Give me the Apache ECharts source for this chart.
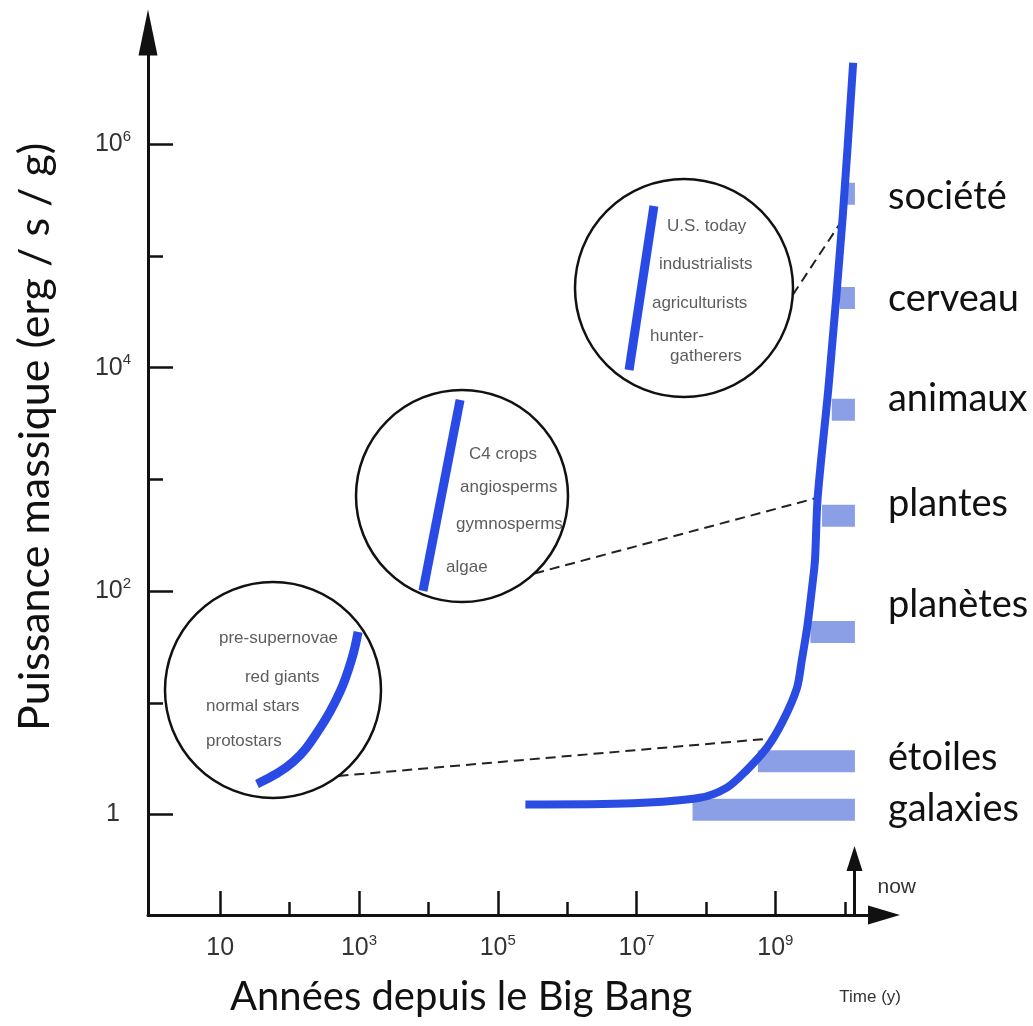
<!DOCTYPE html>
<html><head><meta charset="utf-8">
<script src="https://cdn.jsdelivr.net/npm/echarts@6/dist/echarts.min.js"></script>
<style>html,body{margin:0;padding:0;background:#fff}#c{width:1033px;height:1026px}</style>
</head><body><div id="c"></div>
<script>
// ---------------- data ----------------
// main curve: years since Big Bang vs specific power (erg/s/g)
const curveYears = [2.5e5, 8.9e6, 8.1e7, 2.0e8, 3.9e8, 7.6e8, 1.29e9, 2.04e9, 2.4e9, 2.88e9, 3.39e9, 3.72e9, 4.07e9, 5.89e9, 9.33e9, 1.32e10];
const curvePower = [1.23, 1.26, 1.41, 1.74, 2.51, 3.98, 6.92, 13.5, 24, 47.9, 110, 190, 692, 7244, 2.24e5, 5.37e6];
// eras (bars)
const eraNames = ['galaxies', 'étoiles', 'planètes', 'plantes', 'animaux', 'cerveau', 'société'];
const eraStartYears = [6.4e7, 5.6e8, 3.2e9, 4.7e9, 6.5e9, 8.5e9, 1.07e10];
const eraPower = [1.1, 3.0, 43, 472, 4200, 4.2e4, 3.6e5];
const eraEndYear = 1.4e10;
const nowYear = 1.38e10;
// axis ticks (exponents of 10)
const xMajorExp = [1, 3, 5, 7, 9];
const xMinorExp = [2, 4, 6, 8, 10];
const yMajorExp = [0, 2, 4, 6];
const yMinorExp = [1, 3, 5];
// insets (coordinates inside each inset, 0..1)
const starStages = ['pre-supernovae', 'red giants', 'normal stars', 'protostars'];
const starStageXY = [[0.25, 0.741], [0.370, 0.560], [0.190, 0.426], [0.190, 0.264]];
const starTrack = [[0.426, 0.065], [0.593, 0.167], [0.718, 0.324], [0.810, 0.491], [0.866, 0.648], [0.894, 0.769]];
const plantStages = ['C4 crops', 'angiosperms', 'gymnosperms', 'algae'];
const plantStageXY = [[0.533, 0.698], [0.491, 0.542], [0.472, 0.368], [0.425, 0.165]];
const plantTrack = [[0.316, 0.052], [0.491, 0.953]];
const humanStages = ['U.S. today', 'industrialists', 'agriculturists', 'hunter-', 'gatherers'];
const humanStageXY = [[0.422, 0.784], [0.385, 0.610], [0.353, 0.431], [0.344, 0.280], [0.436, 0.188]];
const humanTrack = [[0.248, 0.124], [0.362, 0.876]];
// leader targets on the main curve [years, power]
const leaderTargets = [[9.1e8, 4.8], [4.0e9, 684], [9.2e9, 2.1e5]];

// ---------------- helpers ----------------
const L = Math.log10;
const X_MIN = -0.04, X_MAX = 10.565, Y_MIN = -0.9, Y_MAX = 7.0;
const ARIAL = 'Liberation Sans, Arial, sans-serif';
const GILL = 'Lato, sans-serif';
const GRAY = '#333';
function expLabel(v) {
  const k = Math.round(v);
  if (k === 0) return '{b|1}';
  if (k === 1) return '{b|10}';
  return '{b|10}{s|' + k + '}';
}
const labelRich = {
  b: { fontFamily: ARIAL, fontSize: 25, color: GRAY, lineHeight: 30 },
  s: { fontFamily: ARIAL, fontSize: 15, color: GRAY, lineHeight: 4, verticalAlign: 'top' }
};
const axisColor = '#111';
const tickStyle = { color: axisColor, width: 2.5 };

const insetAxes = [1, 2, 3].map(g => ({ type: 'value', gridIndex: g, min: 0, max: 1, show: false }));

const eraLabelOffsets = [[0, -1], [0, -3], [0, -27], [0, -12], [0, -11], [0, 1], [0, 2.5]];

const eraSeries = eraNames.map((n, i) => ({
  type: 'line', name: n, xAxisIndex: 0, yAxisIndex: 0,
  data: [[L(eraStartYears[i]), L(eraPower[i])], [L(eraEndYear), L(eraPower[i])]],
  symbol: 'none', silent: true, z: 2,
  lineStyle: { color: '#8A9FE5', width: 22, cap: 'butt' },
  endLabel: { show: true, formatter: n, distance: 33, offset: eraLabelOffsets[i],
    fontFamily: GILL, fontSize: 38, color: '#111' }
}));

function circleSeries(g) {
  return {
    type: 'custom', xAxisIndex: g + 1, yAxisIndex: g + 1, silent: true, z: 3,
    data: [[0.5, 0.5]],
    renderItem: (params, api) => {
      const c = api.coord([0.5, 0.5]);
      const r = api.size([1, 1])[0] / 2;
      return { type: 'circle', shape: { cx: c[0], cy: c[1], r: r },
        style: { fill: '#fff', stroke: '#111', lineWidth: 2.5 } };
    }
  };
}
function trackSeries(g, pts, smooth) {
  return { type: 'line', xAxisIndex: g + 1, yAxisIndex: g + 1, data: pts, smooth: smooth, symbol: 'none', silent: true, z: 4,
    lineStyle: { color: '#2A4AE6', width: 9, cap: 'butt' } };
}
function textSeries(g, names, xy) {
  return { type: 'scatter', xAxisIndex: g + 1, yAxisIndex: g + 1, symbolSize: 0, silent: true, z: 5,
    data: names.map((n, i) => ({ value: xy[i], name: n })),
    label: { show: true, position: 'right', distance: 0, formatter: p => p.name,
      fontFamily: ARIAL, fontSize: 17, color: GRAY } };
}

const option = {
  animation: false,
  backgroundColor: '#fff',
  grid: [
    { left: 148, top: 32.6, width: 736, height: 882.4, containLabel: false, outerBoundsMode: 'none' },
    { left: 165, top: 582, width: 216, height: 216, containLabel: false, outerBoundsMode: 'none' },
    { left: 356, top: 390, width: 212, height: 212, containLabel: false, outerBoundsMode: 'none' },
    { left: 575, top: 179, width: 218, height: 218, containLabel: false, outerBoundsMode: 'none' }
  ],
  xAxis: [
    { type: 'value', gridIndex: 0, min: X_MIN, max: X_MAX, position: 'bottom',
      axisLine: { show: true, onZero: false, symbol: ['none', 'triangle'], symbolSize: [19, 32], lineStyle: { color: axisColor, width: 3 } },
      axisTick: { show: true, inside: true, length: 24, customValues: xMajorExp, lineStyle: tickStyle },
      axisLabel: { show: true, customValues: xMajorExp, formatter: expLabel, rich: labelRich, margin: 18 },
      splitLine: { show: false },
      name: '{a|Années depuis le Big Bang}{t|Time (y)}', nameLocation: 'middle', nameGap: 62,
      nameTextStyle: { padding: [0, 0, 0, 99], rich: {
        a: { fontFamily: GILL, fontSize: 40, color: '#111' },
        t: { fontFamily: ARIAL, fontSize: 17, color: GRAY, padding: [0, 0, 0, 147] } } }
    },
    { type: 'value', gridIndex: 0, min: X_MIN, max: X_MAX, position: 'bottom',
      axisLine: { show: false, onZero: false },
      axisTick: { show: true, inside: true, length: 13, customValues: xMinorExp, lineStyle: tickStyle },
      axisLabel: { show: false }, splitLine: { show: false } }
  ].concat(insetAxes),
  yAxis: [
    { type: 'value', gridIndex: 0, min: Y_MIN, max: Y_MAX, position: 'left',
      axisLine: { show: true, onZero: false, symbol: ['none', 'triangle'], symbolSize: [19, 46], lineStyle: { color: axisColor, width: 3 } },
      axisTick: { show: true, inside: true, length: 25, customValues: yMajorExp, lineStyle: tickStyle },
      axisLabel: { show: true, customValues: yMajorExp, formatter: expLabel, rich: labelRich, margin: 35, align: 'center' },
      splitLine: { show: false },
      name: 'Puissance massique (erg / s / g)', nameLocation: 'middle', nameRotate: 90, nameGap: 91,
      nameTextStyle: { fontFamily: GILL, fontSize: 43, color: '#111', padding: [0, 0, 0, 74] }
    },
    { type: 'value', gridIndex: 0, min: Y_MIN, max: Y_MAX, position: 'left',
      axisLine: { show: false, onZero: false },
      axisTick: { show: true, inside: true, length: 15, customValues: yMinorExp, lineStyle: tickStyle },
      axisLabel: { show: false }, splitLine: { show: false } }
  ].concat(insetAxes),
  series: eraSeries.concat([
    { type: 'line', name: 'curve', xAxisIndex: 0, yAxisIndex: 0,
      data: curveYears.map((y, i) => [L(y), L(curvePower[i])]),
      smooth: 0.3, symbol: 'none', silent: true, z: 6,
      lineStyle: { color: '#2B4CE2', width: 8, cap: 'butt' } },
    { type: 'custom', name: 'now', xAxisIndex: 0, yAxisIndex: 0, silent: true, z: 6,
      data: [[L(nowYear), Y_MIN]],
      renderItem: (params, api) => {
        const base = api.coord([api.value(0), api.value(1)]);
        const tipY = base[1] - 69;
        return { type: 'group', children: [
          { type: 'line', shape: { x1: base[0], y1: base[1], x2: base[0], y2: tipY + 20 }, style: { stroke: '#111', lineWidth: 3 } },
          { type: 'polygon', shape: { points: [[base[0], tipY], [base[0] - 8, tipY + 25], [base[0] + 8, tipY + 25]] }, style: { fill: '#111' } },
          { type: 'text', x: base[0] + 23, y: base[1] - 28, style: { text: 'now', fontFamily: ARIAL, fontSize: 21, fill: GRAY, textVerticalAlign: 'middle' } }
        ] };
      } },
    circleSeries(1), circleSeries(2), circleSeries(3),
    trackSeries(1, starTrack, 0.4), trackSeries(2, plantTrack, false), trackSeries(3, humanTrack, false),
    textSeries(1, starStages, starStageXY), textSeries(2, plantStages, plantStageXY), textSeries(3, humanStages, humanStageXY)
  ])
};

const chart = echarts.init(document.getElementById('c'), null, { renderer: 'canvas' });
chart.setOption(option);

// dashed leader lines from inset circles to the main curve
const leaderAngles = [52.7, 47, 3.6];
const gfx = leaderTargets.map((t, i) => {
  const ax = i + 2;
  const c = chart.convertToPixel({ xAxisIndex: ax, yAxisIndex: ax }, [0.5, 0.5]);
  const e = chart.convertToPixel({ xAxisIndex: ax, yAxisIndex: ax }, [1, 0.5]);
  const r = e[0] - c[0];
  const a = leaderAngles[i] * Math.PI / 180;
  const p = chart.convertToPixel({ xAxisIndex: 0, yAxisIndex: 0 }, [L(t[0]), L(t[1])]);
  return { type: 'line', z: 1, silent: true,
    shape: { x1: c[0] + r * Math.cos(a), y1: c[1] + r * Math.sin(a), x2: p[0], y2: p[1] },
    style: { stroke: '#222', lineWidth: 2, lineDash: [10, 6] } };
});
chart.setOption({ graphic: gfx });
</script>
</body></html>
